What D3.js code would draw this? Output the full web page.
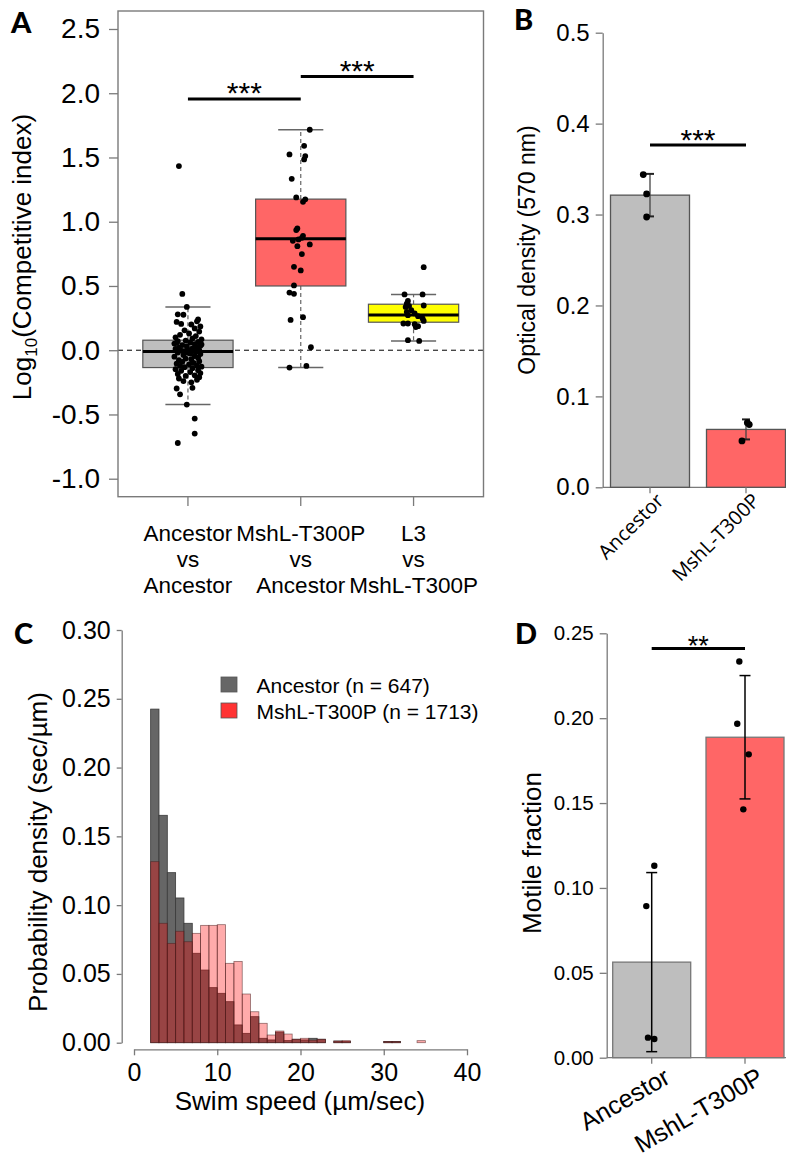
<!DOCTYPE html>
<html>
<head>
<meta charset="utf-8">
<script src="https://cdn.jsdelivr.net/npm/d3@7"></script>
<style>
  html, body { margin: 0; padding: 0; background: #fff; }
  svg { display: block; }
</style>
</head>
<body>
<script>
// ---------- Panel A: competitive index (box plots with points) ----------
const compGroups = [["Ancestor", "vs", "Ancestor"], ["MshL-T300P", "vs", "Ancestor"], ["L3", "vs", "MshL-T300P"]];
const compTicks = [-1.0, -0.5, 0.0, 0.5, 1.0, 1.5, 2.0, 2.5];
const compFill = ["#BEBEBE", "#FF6666", "#FFFF00"];
// five-number summaries of each box
const boxLower  = [-0.423, -0.135, 0.072];
const boxQ1     = [-0.135,  0.500, 0.218];
const boxMedian = [-0.010,  0.867, 0.275];
const boxQ3     = [ 0.078,  1.176, 0.358];
const boxUpper  = [ 0.337,  1.716, 0.434];

const ancVsAnc = [1.433, 0.438, 0.337, 0.279, 0.276, 0.24, 0.225, 0.22, 0.205, 0.2, 0.185, 0.17, 0.155, 0.145,
  0.13, 0.12, 0.11, 0.1, 0.092, 0.085, 0.075, 0.07, 0.065, 0.06, 0.052, 0.048, 0.04, 0.035, 0.03, 0.025, 0.02,
  0.015, 0.01, 0.005, 0.0, -0.003, -0.005, -0.008, 0.045, 0.058, -0.012, -0.018, -0.025, -0.03, -0.038, -0.045,
  -0.05, -0.058, -0.065, -0.07, -0.078, -0.085, -0.09, -0.098, -0.105, -0.11, -0.118, -0.122, -0.128, -0.132,
  -0.02, -0.14, -0.148, -0.155, -0.16, -0.17, -0.178, -0.185, -0.195, -0.2, -0.21, -0.22, -0.23, -0.24, -0.25,
  -0.298, -0.293, -0.343, -0.423, -0.532, -0.649, -0.722];
const ancVsAncJitter = [-0.08, -0.05, -0.01, -0.09, -0.04, 0.09, 0.08, -0.10, -0.06, 0.03, 0.11, 0.06, -0.03, 0.10,
  0.01, -0.07, 0.07, -0.11, 0.04, 0.12, -0.02, -0.09, 0.09, 0.02, -0.12, 0.06, -0.05, 0.11, -0.01, 0.08, -0.08,
  0.04, -0.11, 0.00, 0.10, -0.06, 0.05, -0.03, 0.12, -0.10, 0.07, -0.09, 0.02, 0.11, -0.04, 0.06,
  -0.12, 0.09, -0.02, 0.03, -0.08, 0.10, -0.05, 0.05, -0.10, 0.01, 0.08, -0.07, 0.12, -0.03,
  0.00, 0.04, -0.11, 0.09, -0.06, 0.02, 0.11, -0.09, 0.06, -0.02, 0.10, -0.08, 0.08, -0.04, 0.03,
  -0.10, 0.04, -0.07, -0.01, 0.06, 0.06, -0.09];

const mutVsAnc = [1.716, 1.591, 1.524, 1.511, 1.485, 1.334, 1.189, 1.174, 1.155, 0.948, 0.935, 0.89, 0.875, 0.851,
  0.862, 0.823, 0.81, 0.748, 0.649, 0.621, 0.504, 0.449, 0.439, 0.257, 0.236, 0.023, -0.122, -0.135];
const mutVsAncJitter = [0.08, 0.03, -0.10, 0.04, 0.03, -0.08, -0.04, 0.04, 0.02, -0.03, -0.04, 0.02, 0.01, -0.07,
  -0.02, 0.08, -0.03, 0.01, -0.06, 0.00, -0.06, -0.10, -0.06, 0.02, -0.09, 0.09, 0.05, -0.10];

const l3VsMut = [0.646, 0.434, 0.434, 0.384, 0.363, 0.348, 0.337, 0.345, 0.312, 0.298, 0.286, 0.273, 0.265, 0.247,
  0.228, 0.208, 0.208, 0.202, 0.187, 0.18, 0.078, 0.072];
const l3VsMutJitter = [0.09, -0.08, 0.08, -0.05, -0.06, 0.09, -0.07, -0.04, -0.02, -0.06, 0.01, -0.05, 0.04, 0.08,
  0.09, -0.09, -0.05, 0.01, 0.04, 0.02, -0.05, 0.05];

const compPoints = [ancVsAnc, mutVsAnc, l3VsMut];
const compJitter = [ancVsAncJitter, mutVsAncJitter, l3VsMutJitter];
const compSigFrom = [1, 2], compSigTo = [2, 3], compSigY = [1.955, 2.13], compSigLabel = ["***", "***"];

// ---------- Panel B: optical density ----------
const strains = ["Ancestor", "MshL-T300P"];
const strainFill = ["#BEBEBE", "#FF6666"];
const odTicks = [0.0, 0.1, 0.2, 0.3, 0.4, 0.5];
const odPoints = [[0.344, 0.3227, 0.2973], [0.071, 0.069, 0.051]];
const odJitter = [[-0.07, -0.035, -0.035], [0.014, 0.034, -0.042]];
const odSigY = 0.3766, odSigLabel = "***";

// ---------- Panel C: swim-speed histograms ----------
const speedBinStart = d3.range(2, 35);   // 1 µm/sec wide bins from 2 to 35
const speedTicksX = [0, 10, 20, 30, 40];
const speedTicksY = [0.00, 0.05, 0.10, 0.15, 0.20, 0.25, 0.30];
const ancestorDensity = [0.2425, 0.1653, 0.1236, 0.1052, 0.0868, 0.0650, 0.0528, 0.0400, 0.0359, 0.0298, 0.0129,
  0.0068, 0.0189, 0.0032, 0.0020, 0.0077, 0.0015, 0.0025, 0.0020, 0.0032, 0.0025, 0, 0.0012, 0.0008, 0, 0, 0, 0,
  0.0009, 0.0009, 0, 0, 0];
const mutantDensity = [0.1316, 0.0868, 0.0722, 0.0810, 0.0734, 0.0795, 0.0853, 0.0853, 0.0858, 0.0577, 0.0591,
  0.0354, 0.0225, 0.0141, 0.0056, 0.0085, 0.0063, 0.0025, 0.0032, 0.0018, 0.0025, 0, 0.0012, 0.0015, 0, 0, 0, 0,
  0.0009, 0.0009, 0, 0, 0.0015];
const speedLegend = ["Ancestor (n = 647)", "MshL-T300P (n = 1713)"];

// ---------- Panel D: motile fraction ----------
const motTicks = [0.00, 0.05, 0.10, 0.15, 0.20, 0.25];
const motPoints = [[0.0893, 0.1131, 0.0118, 0.0110], [0.2334, 0.1967, 0.1787, 0.1463]];
const motJitter = [[-0.058, 0.028, -0.04, 0.028], [-0.061, -0.083, 0.04, -0.018]];
const motSigY = 0.2411, motSigLabel = "**";

// ---------------------------------------------------------------------
const SANS = "'Liberation Sans', Arial, Helvetica, sans-serif";
const LETTER = "Lato, 'Open Sans', sans-serif";
const AXIS_GREY = "#7a7a7a";

const svg = d3.select("body").append("svg")
  .attr("width", 786).attr("height", 1158)
  .attr("font-family", SANS);
svg.append("rect").attr("width", 786).attr("height", 1158).attr("fill", "#fff");

function panelLetter(txt, x, y) {
  svg.append("text").attr("x", x).attr("y", y).text(txt)
    .attr("font-family", LETTER).attr("font-weight", 900).attr("font-size", 29).attr("fill", "#000");
}
function styleAxis(g, size) {
  g.selectAll("text").attr("font-family", SANS).attr("font-size", size).attr("fill", "#000");
  g.selectAll("line").attr("stroke", AXIS_GREY).attr("stroke-width", 1.3);
  g.selectAll("path.domain").attr("stroke", AXIS_GREY).attr("stroke-width", 1.3);
}

// ===== Panel A =====
(function () {
  const x = d3.scaleLinear().domain([0.38, 3.62]).range([118, 483.5]);
  const y = d3.scaleLinear().domain([-1.14, 2.64]).range([496.7, 11]);
  const g = svg.append("g");

  // y axis
  const ya = g.append("g").attr("transform", `translate(${x.range()[0]},0)`)
    .call(d3.axisLeft(y).tickValues(compTicks).tickFormat(d => d.toFixed(1)).tickSize(9).tickPadding(9));
  ya.select(".domain").remove();
  styleAxis(ya, 28);

  // x ticks + labels
  compGroups.forEach((lines, i) => {
    g.append("line").attr("x1", x(i + 1)).attr("x2", x(i + 1)).attr("y1", y.range()[0]).attr("y2", 506)
      .attr("stroke", AXIS_GREY).attr("stroke-width", 1.3);
    lines.forEach((t, k) => {
      g.append("text").attr("x", x(i + 1)).attr("y", 541 + k * 26).attr("text-anchor", "middle")
        .attr("font-size", 22.5).text(t);
    });
  });

  // reference line at zero
  g.append("line").attr("x1", x.range()[0]).attr("x2", x.range()[1]).attr("y1", y(0)).attr("y2", y(0))
    .attr("stroke", "#000").attr("stroke-width", 1).attr("stroke-dasharray", "5,4");

  // boxes
  compGroups.forEach((_, i) => {
    const c = i + 1, half = x(c + 0.4) - x(c), cap = x(c + 0.2) - x(c), cx = x(c);
    [[boxQ3[i], boxUpper[i]], [boxQ1[i], boxLower[i]]].forEach(([a, b]) => {
      g.append("line").attr("x1", cx).attr("x2", cx).attr("y1", y(a)).attr("y2", y(b))
        .attr("stroke", "#666").attr("stroke-width", 1.2).attr("stroke-dasharray", "4,3");
      g.append("line").attr("x1", cx - cap).attr("x2", cx + cap).attr("y1", y(b)).attr("y2", y(b))
        .attr("stroke", "#666").attr("stroke-width", 1.5);
    });
    g.append("rect").attr("x", cx - half).attr("width", 2 * half)
      .attr("y", y(boxQ3[i])).attr("height", y(boxQ1[i]) - y(boxQ3[i]))
      .attr("fill", compFill[i]).attr("stroke", "#555").attr("stroke-width", 1.2);
    g.append("line").attr("x1", cx - half).attr("x2", cx + half)
      .attr("y1", y(boxMedian[i])).attr("y2", y(boxMedian[i]))
      .attr("stroke", "#000").attr("stroke-width", 3);
  });

  // points
  compPoints.forEach((vals, i) => {
    g.selectAll(null).data(vals).enter().append("circle")
      .attr("cx", (d, k) => x(i + 1 + compJitter[i][k])).attr("cy", d => y(d))
      .attr("r", 2.9).attr("fill", "#000");
  });

  // significance bars
  compSigY.forEach((v, k) => {
    g.append("line").attr("x1", x(compSigFrom[k])).attr("x2", x(compSigTo[k]))
      .attr("y1", y(v)).attr("y2", y(v)).attr("stroke", "#000").attr("stroke-width", 3);
    g.append("text").attr("x", (x(compSigFrom[k]) + x(compSigTo[k])) / 2).attr("y", y(v) + 4)
      .attr("text-anchor", "middle").attr("font-size", 30).text(compSigLabel[k]);
  });

  // frame
  g.append("rect").attr("x", x.range()[0]).attr("y", y.range()[1])
    .attr("width", x.range()[1] - x.range()[0]).attr("height", y.range()[0] - y.range()[1])
    .attr("fill", "none").attr("stroke", AXIS_GREY).attr("stroke-width", 1.4);

  // y title with subscript
  const t = g.append("text").attr("transform", "translate(31,257) rotate(-90)")
    .attr("text-anchor", "middle").attr("font-size", 26);
  t.append("tspan").text("Log");
  t.append("tspan").text("10").attr("font-size", 17).attr("dy", 6);
  t.append("tspan").text("(Competitive index)").attr("dy", -6);

  panelLetter("A", 11, 33);
})();

// ===== Panel B =====
(function () {
  const x = d3.scalePoint().domain(strains).range([650, 746]);
  const y = d3.scaleLinear().domain([0, 0.5]).range([487.3, 32.7]);
  const step = 96, barW = 79;
  const g = svg.append("g");
  const axX = 602.7;

  const ya = g.append("g").attr("transform", `translate(${axX},0)`)
    .call(d3.axisLeft(y).tickValues(odTicks).tickFormat(d => d.toFixed(1)).tickSize(7).tickSizeOuter(0).tickPadding(6));
  styleAxis(ya, 24);

  g.append("line").attr("x1", axX).attr("x2", 786).attr("y1", y(0)).attr("y2", y(0))
    .attr("stroke", AXIS_GREY).attr("stroke-width", 1.3);

  strains.forEach((s, i) => {
    const m = d3.mean(odPoints[i]), sd = d3.deviation(odPoints[i]), cx = x(s);
    g.append("rect").attr("x", cx - barW / 2).attr("width", barW).attr("y", y(m)).attr("height", y(0) - y(m))
      .attr("fill", strainFill[i]).attr("stroke", "#555").attr("stroke-width", 1.3);
    g.append("line").attr("x1", cx).attr("x2", cx).attr("y1", y(m + sd)).attr("y2", y(m - sd))
      .attr("stroke", "#444").attr("stroke-width", 1.3);
    [m + sd, m - sd].forEach(v => g.append("line").attr("x1", cx - 4).attr("x2", cx + 4)
      .attr("y1", y(v)).attr("y2", y(v)).attr("stroke", "#222").attr("stroke-width", 2));
    g.selectAll(null).data(odPoints[i]).enter().append("circle")
      .attr("cx", (d, k) => cx + odJitter[i][k] * step).attr("cy", d => y(d))
      .attr("r", 3.4).attr("fill", "#000");
    g.append("line").attr("x1", cx).attr("x2", cx).attr("y1", y(0)).attr("y2", y(0) + 6)
      .attr("stroke", AXIS_GREY).attr("stroke-width", 1.3);
    g.append("text").attr("transform", `translate(${cx + 15},502) rotate(-45)`)
      .attr("text-anchor", "end").attr("font-family", "'Open Sans', sans-serif").attr("font-size", 20)
      .text(s);
  });

  g.append("line").attr("x1", x(strains[0])).attr("x2", x(strains[1])).attr("y1", y(odSigY)).attr("y2", y(odSigY))
    .attr("stroke", "#000").attr("stroke-width", 3);
  g.append("text").attr("x", (x(strains[0]) + x(strains[1])) / 2).attr("y", y(odSigY) + 5)
    .attr("text-anchor", "middle").attr("font-size", 30).text(odSigLabel);

  g.append("text").attr("transform", "translate(535,250) rotate(-90)").attr("text-anchor", "middle")
    .attr("font-size", 23).text("Optical density (570 nm)");

  panelLetter("B", 514, 30);
})();

// ===== Panel C =====
(function () {
  const x = d3.scaleLinear().domain([0, 40]).range([134, 467]);
  const y = d3.scaleLinear().domain([0, 0.30]).range([1042.7, 630]);
  const g = svg.append("g");

  const ya = g.append("g").attr("transform", "translate(121.7,0)")
    .call(d3.axisLeft(y).tickValues(speedTicksY).tickFormat(d => d.toFixed(2)).tickSize(5).tickSizeOuter(0).tickPadding(6));
  styleAxis(ya, 25);

  const xa = g.append("g").attr("transform", "translate(0,1049.3)")
    .call(d3.axisBottom(x).tickValues(speedTicksX).tickFormat(d3.format("d")).tickSize(6).tickSizeOuter(0).tickPadding(8));
  styleAxis(xa, 25);

  g.selectAll(null).data(ancestorDensity).enter().append("rect")
    .attr("x", (d, i) => x(speedBinStart[i])).attr("width", (d, i) => x(speedBinStart[i] + 1) - x(speedBinStart[i]))
    .attr("y", d => y(d)).attr("height", d => y(0) - y(d))
    .attr("fill", "#666666").attr("stroke", "#3a3a3a").attr("stroke-width", 0.8);
  g.selectAll(null).data(mutantDensity).enter().append("rect")
    .attr("x", (d, i) => x(speedBinStart[i])).attr("width", (d, i) => x(speedBinStart[i] + 1) - x(speedBinStart[i]))
    .attr("y", d => y(d)).attr("height", d => y(0) - y(d))
    .attr("fill", "rgba(255,0,0,0.33)").attr("stroke", "rgba(70,30,30,0.6)").attr("stroke-width", 0.8);

  const legFill = ["#666666", "#FF3333"];
  speedLegend.forEach((t, i) => {
    g.append("rect").attr("x", 221).attr("y", 677 + i * 26).attr("width", 16).attr("height", 15)
      .attr("fill", legFill[i]).attr("stroke", "#555").attr("stroke-width", 0.8);
    g.append("text").attr("x", 256.5).attr("y", 692.5 + i * 26).attr("font-size", 21).text(t);
  });

  g.append("text").attr("x", 300).attr("y", 1110).attr("text-anchor", "middle").attr("font-size", 26)
    .text("Swim speed (\u00b5m/sec)");
  g.append("text").attr("transform", "translate(47,852) rotate(-90)").attr("text-anchor", "middle")
    .attr("font-size", 26).text("Probability density (sec/\u00b5m)");

  panelLetter("C", 14, 644);
})();

// ===== Panel D =====
(function () {
  const x = d3.scalePoint().domain(strains).range([651.7, 745]);
  const y = d3.scaleLinear().domain([0, 0.25]).range([1057.7, 633.3]);
  const step = 93.3, barW = 78;
  const g = svg.append("g");
  const axX = 606.7;

  const ya = g.append("g").attr("transform", `translate(${axX},0)`)
    .call(d3.axisLeft(y).tickValues(motTicks).tickFormat(d => d.toFixed(2)).tickSize(7).tickSizeOuter(0).tickPadding(6));
  styleAxis(ya, 20.5);

  g.append("line").attr("x1", axX).attr("x2", 786).attr("y1", y(0)).attr("y2", y(0))
    .attr("stroke", AXIS_GREY).attr("stroke-width", 1.3);

  strains.forEach((s, i) => {
    const m = d3.mean(motPoints[i]), sd = d3.deviation(motPoints[i]), cx = x(s);
    g.append("rect").attr("x", cx - barW / 2).attr("width", barW).attr("y", y(m)).attr("height", y(0) - y(m))
      .attr("fill", strainFill[i]).attr("stroke", "#777").attr("stroke-width", 1.3);
    g.append("line").attr("x1", cx).attr("x2", cx).attr("y1", y(m + sd)).attr("y2", y(m - sd))
      .attr("stroke", "#000").attr("stroke-width", 1.5);
    [m + sd, m - sd].forEach(v => g.append("line").attr("x1", cx - 5.5).attr("x2", cx + 5.5)
      .attr("y1", y(v)).attr("y2", y(v)).attr("stroke", "#000").attr("stroke-width", 1.5));
    g.selectAll(null).data(motPoints[i]).enter().append("circle")
      .attr("cx", (d, k) => cx + motJitter[i][k] * step).attr("cy", d => y(d))
      .attr("r", 3.2).attr("fill", "#000");
    g.append("line").attr("x1", cx).attr("x2", cx).attr("y1", y(0)).attr("y2", y(0) + 6)
      .attr("stroke", AXIS_GREY).attr("stroke-width", 1.3);
    g.append("text").attr("transform", `translate(${cx + 20},1082) rotate(-30)`)
      .attr("text-anchor", "end").attr("font-size", 25).text(s);
  });

  g.append("line").attr("x1", x(strains[0])).attr("x2", x(strains[1])).attr("y1", y(motSigY)).attr("y2", y(motSigY))
    .attr("stroke", "#000").attr("stroke-width", 3);
  g.append("text").attr("x", (x(strains[0]) + x(strains[1])) / 2).attr("y", y(motSigY) + 7)
    .attr("text-anchor", "middle").attr("font-size", 27).text(motSigLabel);

  g.append("text").attr("transform", "translate(541,853) rotate(-90)").attr("text-anchor", "middle")
    .attr("font-size", 26).text("Motile fraction");

  panelLetter("D", 515, 644);
})();
</script>
</body>
</html>
